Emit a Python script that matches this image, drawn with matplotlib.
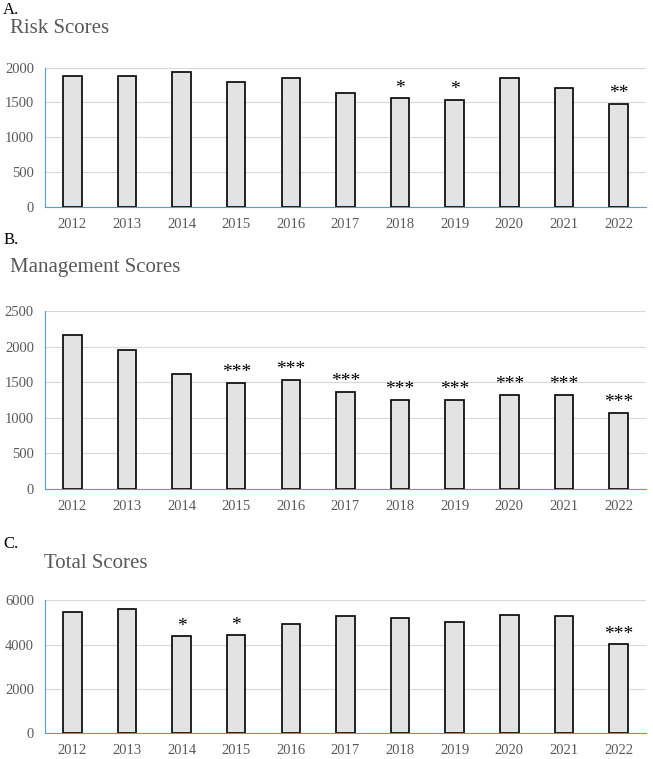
import matplotlib
matplotlib.use("Agg")
import matplotlib.pyplot as plt

years = [str(y) for y in range(2012, 2023)]
risk = [1875, 1885, 1940, 1800, 1855, 1640, 1565, 1540, 1855, 1710, 1485]
risk_sig = ["", "", "", "", "", "", "*", "*", "", "", "**"]
mgmt = [2160, 1950, 1610, 1490, 1535, 1365, 1250, 1250, 1320, 1325, 1065]
mgmt_sig = ["", "", "", "***", "***", "***", "***", "***", "***", "***", "***"]
total = [5460, 5630, 4375, 4420, 4920, 5280, 5190, 5010, 5340, 5310, 4010]
total_sig = ["", "", "*", "*", "", "", "", "", "", "", "***"]

plt.rcParams["font.family"] = "Liberation Serif"
fig = plt.figure(figsize=(6.53, 7.59), dpi=100)

panels = [
    ("A.", "Risk Scores", risk, risk_sig, 2000, 500, [0.069, 0.727, 0.92, 0.184], 0.987, 0.962, 0.015),
    ("B.", "Management Scores", mgmt, mgmt_sig, 2500, 500, [0.069, 0.356, 0.92, 0.234], 0.684, 0.647, 0.015),
    ("C.", "Total Scores", total, total_sig, 6000, 2000, [0.069, 0.034, 0.92, 0.175], 0.283, 0.258, 0.068),
]
for lab, title, vals, sig, ymax, step, rect, ylab, ytitle, tx in panels:
    ax = fig.add_axes(rect)
    x = range(len(years))
    ax.bar(x, vals, width=0.34, color="#e3e3e3", edgecolor="black", linewidth=1.2, zorder=3)
    for i, (v, s) in enumerate(zip(vals, sig)):
        if s:
            ax.text(i, v + ymax * 0.01, s, ha="center", va="bottom", fontsize=14, zorder=4)
    ax.set_ylim(0, ymax)
    ax.set_yticks(range(0, ymax + 1, step))
    ax.set_xlim(-0.5, len(years) - 0.5)
    ax.set_xticks(list(x))
    ax.set_xticklabels(years)
    ax.yaxis.grid(True, color="#d9d9d9", linewidth=0.8, zorder=0)
    for sp in ["top", "right"]:
        ax.spines[sp].set_visible(False)
    ax.spines["bottom"].set_color("#5b9bd5")
    ax.spines["left"].set_color("#5b9bd5")
    ax.tick_params(axis="both", length=0, colors="#595959", labelsize=10.5, pad=8)
    fig.text(0.005, ylab, lab, fontsize=12, va="center")
    fig.text(tx, ytitle, title, fontsize=15, color="#595959", va="center")

fig.savefig("out.png", dpi=100)
